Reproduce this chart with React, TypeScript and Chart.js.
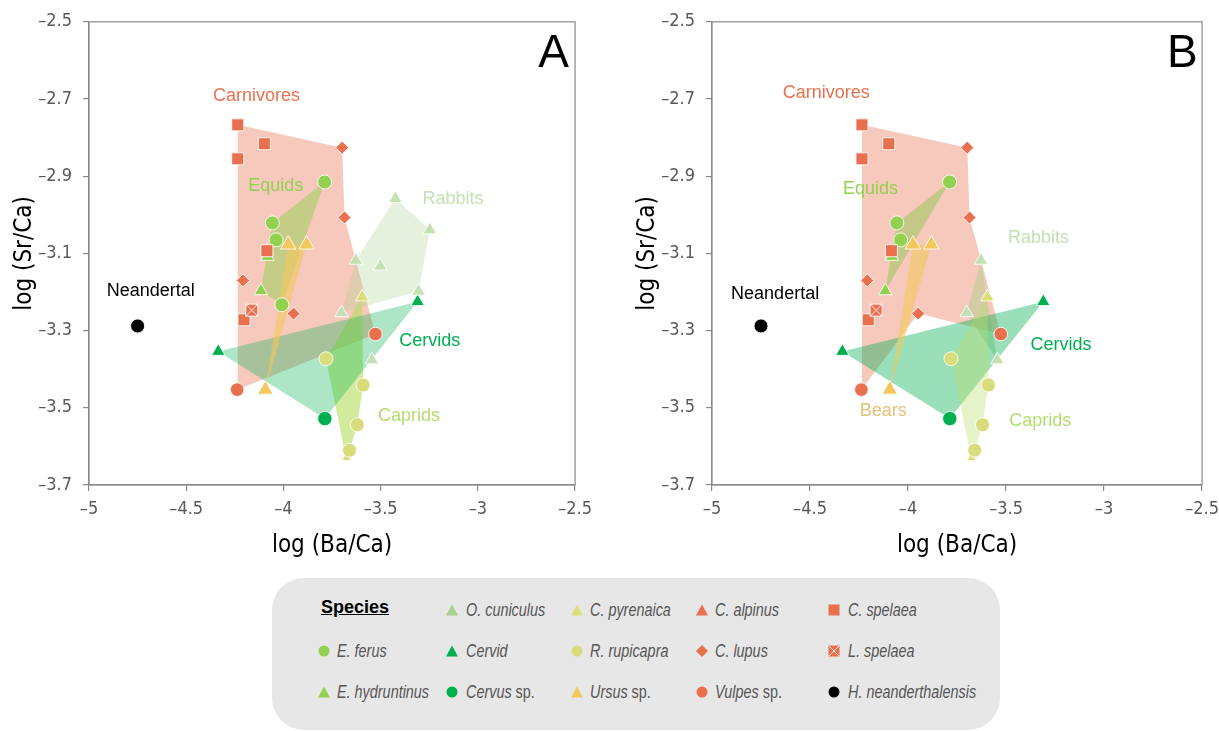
import React, { useEffect, useRef } from 'react';
import { Chart, registerables } from 'chart.js';

Chart.register(...registerables);

type Pt = [number, number];

// ---------- axis ticks ----------
const X_TICKS = [-5, -4.5, -4, -3.5, -3, -2.5];
const Y_TICKS = [-3.7, -3.5, -3.3, -3.1, -2.9, -2.7, -2.5];

// ---------- species values [log(Ba/Ca), log(Sr/Ca)] ----------
const cSpelaea: Pt[] = [[-4.235, -2.767], [-4.235, -2.855], [-4.098, -2.816], [-4.085, -3.093], [-4.203, -3.272]];
const lSpelaea: Pt[] = [[-4.163, -3.247]];
const cLupus: Pt[] = [[-3.698, -2.826], [-3.686, -3.007], [-4.208, -3.170], [-3.948, -3.256]];
const vulpes: Pt[] = [[-3.527, -3.309], [-4.238, -3.453]];
const cAlpinus: Pt[] = [[-4.085, -3.093]];
const eFerusShared: Pt[] = [[-3.788, -2.915], [-4.057, -3.021], [-4.038, -3.065]];
const eFerusAOnly: Pt[] = [[-4.008, -3.233]];
const eHydruntinus: Pt[] = [[-4.116, -3.197], [-4.082, -3.108]];
const ursus: Pt[] = [[-3.975, -3.077], [-3.881, -3.077], [-4.093, -3.453]];
const oCuniculusShared: Pt[] = [[-3.628, -3.118], [-3.701, -3.254], [-3.545, -3.376]];
const oCuniculusAOnly: Pt[] = [[-3.424, -2.958], [-3.247, -3.039], [-3.502, -3.133], [-3.305, -3.198]];
const cervid: Pt[] = [[-4.335, -3.354], [-3.310, -3.225]];
const cervus: Pt[] = [[-3.787, -3.528]];
const cPyrenaica: Pt[] = [[-3.595, -3.213], [-3.676, -3.636]];
const rRupicapra: Pt[] = [[-3.781, -3.373], [-3.590, -3.441], [-3.620, -3.544], [-3.660, -3.610]];
const neandertal: Pt[] = [[-4.750, -3.288]];

// ---------- group outlines (vertices are data points) ----------
const carnivoreHullA: Pt[] = [cSpelaea[0], cLupus[0], cLupus[1], vulpes[0], vulpes[1]];
const carnivoreHullB: Pt[] = [cSpelaea[0], cLupus[0], cLupus[1], vulpes[0], cLupus[3], vulpes[1]];
const equidHullA: Pt[] = [eFerusShared[0], eFerusShared[1], eHydruntinus[0], eFerusAOnly[0]];
const equidHullB: Pt[] = [eFerusShared[0], eFerusShared[1], eHydruntinus[0]];
const bearHull: Pt[] = [ursus[0], ursus[1], ursus[2]];
const rabbitHullA: Pt[] = [oCuniculusAOnly[0], oCuniculusAOnly[1], oCuniculusAOnly[3], oCuniculusShared[1], oCuniculusShared[0]];
const rabbitHullB: Pt[] = [oCuniculusShared[0], oCuniculusShared[2], oCuniculusShared[1]];
const cervidHull: Pt[] = [cervid[0], cervid[1], cervus[0]];
const capridHull: Pt[] = [cPyrenaica[0], rRupicapra[1], rRupicapra[2], cPyrenaica[1], rRupicapra[0]];

// ---------- group label annotations ----------
type Lab = { text: string; x: number; y: number; group: string };
const labelsA: Lab[] = [
  { text: 'Carnivores', x: -4.139, y: -2.692, group: 'carn' },
  { text: 'Equids', x: -4.039, y: -2.925, group: 'equid' },
  { text: 'Rabbits', x: -3.128, y: -2.958, group: 'rabbit' },
  { text: 'Neandertal', x: -4.682, y: -3.198, group: 'nean' },
  { text: 'Cervids', x: -3.247, y: -3.327, group: 'cervid' },
  { text: 'Caprids', x: -3.354, y: -3.522, group: 'caprid' },
  { text: 'A', x: -2.61, y: -2.583, group: 'panel' },
];
const labelsB: Lab[] = [
  { text: 'Carnivores', x: -4.417, y: -2.685, group: 'carn' },
  { text: 'Equids', x: -4.191, y: -2.932, group: 'equid' },
  { text: 'Rabbits', x: -3.334, y: -3.060, group: 'rabbit' },
  { text: 'Neandertal', x: -4.678, y: -3.206, group: 'nean' },
  { text: 'Cervids', x: -3.220, y: -3.338, group: 'cervid' },
  { text: 'Caprids', x: -3.326, y: -3.534, group: 'caprid' },
  { text: 'Bears', x: -4.127, y: -3.508, group: 'bear' },
  { text: 'B', x: -2.601, y: -2.583, group: 'panel' },
];

// ---------- styles ----------
const SANS = "'Liberation Sans', Arial, Helvetica, sans-serif";
const NARROW = "'Liberation Sans Narrow', 'Arial Narrow', 'DejaVu Sans Condensed', sans-serif";
const RED = '#E8704F';
const C_EQUID = '#92D050';
const C_URSUS = '#F2C85C';
const C_RABBIT = '#C5E0B4';
const C_RABBIT_LEG = '#A9D18E';
const C_CERVID = '#00B050';
const C_PYR = '#DBDF7B';
const C_RUP = '#D9DC7A';
const LABEL_COLORS: Record<string, string> = {
  carn: '#E8704F', equid: '#92D050', rabbit: '#C5E0B4', cervid: '#00B050',
  caprid: '#B4DC6E', bear: '#E3C27A', nean: '#000000', panel: '#000000',
};
const FILLS_A = {
  carn: 'rgba(232,112,79,0.38)', rabbit: 'rgba(169,209,142,0.30)', caprid: 'rgba(180,220,90,0.6)',
  cervid: 'rgba(0,176,80,0.32)', equid: 'rgba(146,208,80,0.5)', bear: 'rgba(242,200,92,0.6)',
};
const FILLS_B = {
  carn: 'rgba(232,112,79,0.38)', rabbit: 'rgba(169,209,142,0.45)', caprid: 'rgba(190,222,110,0.38)',
  cervid: 'rgba(0,176,80,0.4)', equid: 'rgba(146,200,80,0.5)', bear: 'rgba(242,200,92,0.6)',
};

const fmtTick = (v: any) => {
  const n = Number(v);
  return (n < 0 ? '\u2013' : '') + String(Math.abs(n));
};

function pts(arr: Pt[]) {
  return arr.map(([x, y]) => ({ x, y }));
}

function makeCrossSquare(color: string) {
  const c = document.createElement('canvas');
  c.width = 15;
  c.height = 15;
  const g = c.getContext('2d')!;
  g.fillStyle = color;
  g.fillRect(1, 1, 13, 13);
  g.strokeStyle = 'rgba(255,255,255,0.9)';
  g.lineWidth = 1;
  g.strokeRect(1.5, 1.5, 12, 12);
  g.beginPath();
  g.moveTo(2, 2);
  g.lineTo(13, 13);
  g.moveTo(13, 2);
  g.lineTo(2, 13);
  g.stroke();
  return c;
}

function marker(label: string, data: Pt[], style: any, color: string, radius: number, order: number, extra: any = {}) {
  return {
    type: 'scatter',
    label,
    data: pts(data),
    pointStyle: style,
    pointRadius: radius,
    pointBackgroundColor: color,
    pointBorderColor: 'rgba(255,255,255,0.85)',
    pointBorderWidth: 1,
    showLine: false,
    order,
    ...extra,
  };
}

function poly(label: string, hull: Pt[], fill: string, order: number) {
  return {
    type: 'line',
    label,
    data: pts([...hull, hull[0]]),
    fill: 'shape',
    backgroundColor: fill,
    borderColor: 'rgba(0,0,0,0)',
    borderWidth: 0,
    pointRadius: 0,
    tension: 0,
    order,
  };
}

function buildConfig(panel: 'A' | 'B', rightPad: number): any {
  const isA = panel === 'A';
  const eFerus = isA ? [...eFerusShared, ...eFerusAOnly] : eFerusShared;
  const oCun = isA ? [...oCuniculusShared, ...oCuniculusAOnly] : oCuniculusShared;
  const F = isA ? FILLS_A : FILLS_B;
  const labels = isA ? labelsA : labelsB;
  const cross = makeCrossSquare(RED);

  const datasets: any[] = [
    marker('L. spelaea', lSpelaea, cross, RED, 8, 0),
    marker('C. spelaea', cSpelaea, 'rect', RED, 8.5, 1),
    marker('C. lupus', cLupus, 'rectRot', RED, 6.5, 1),
    marker('Vulpes sp.', vulpes, 'circle', RED, 6.8, 1),
    marker('H. neanderthalensis', neandertal, 'circle', '#000000', 7, 1),
    marker('Ursus sp.', ursus, 'triangle', C_URSUS, 9, 2),
    marker('E. ferus', eFerus, 'circle', C_EQUID, 7, 2),
    marker('R. rupicapra', rRupicapra, 'circle', C_RUP, 7, 2),
    marker('Cervus sp.', cervus, 'circle', C_CERVID, 7.2, 2),
    marker('O. cuniculus', oCun, 'triangle', C_RABBIT, 7.8, 2),
    marker('Cervid', cervid, 'triangle', C_CERVID, 7.8, 2),
    marker('E. hydruntinus', eHydruntinus, 'triangle', C_EQUID, 7.8, 3),
    marker('C. pyrenaica', cPyrenaica, 'triangle', C_PYR, 7.8, 3, {
      clip: { left: 20, top: 20, right: 20, bottom: -25 },
    }),
    marker('C. alpinus', cAlpinus, 'triangle', RED, 7.5, 4),
    poly('Carnivores', isA ? carnivoreHullA : carnivoreHullB, F.carn, 20),
    poly('Rabbits', isA ? rabbitHullA : rabbitHullB, F.rabbit, 19),
    poly('Caprids', capridHull, F.caprid, isA ? 18 : 17),
    poly('Cervids', cervidHull, F.cervid, isA ? 17 : 18),
    poly('Equids', isA ? equidHullA : equidHullB, F.equid, 16),
    poly('Bears', bearHull, F.bear, 15),
  ];

  const framePlugin = {
    id: 'frame' + panel,
    beforeDatasetsDraw(chart: any) {
      const { ctx, chartArea: a } = chart;
      ctx.save();
      ctx.strokeStyle = '#8a8a8a';
      ctx.lineWidth = 1.2;
      ctx.strokeRect(a.left, a.top, a.right - a.left, a.bottom - a.top);
      ctx.restore();
    },
  };

  const labelPlugin = {
    id: 'labels' + panel,
    afterDatasetsDraw(chart: any) {
      const { ctx } = chart;
      const xs = chart.scales.x;
      const ys = chart.scales.y;
      ctx.save();
      ctx.textAlign = 'center';
      ctx.textBaseline = 'middle';
      for (const l of labels) {
        ctx.font = l.group === 'panel' ? `46px ${SANS}` : `18px ${SANS}`;
        ctx.fillStyle = LABEL_COLORS[l.group];
        ctx.fillText(l.text, xs.getPixelForValue(l.x), ys.getPixelForValue(l.y));
      }
      ctx.restore();
    },
  };

  const axisCommon = {
    type: 'linear',
    grid: { display: true, drawOnChartArea: false, drawTicks: true, tickLength: 6, color: '#8a8a8a', lineWidth: 1.2 },
    border: { display: true, color: '#8a8a8a', width: 1.2 },
  };

  return {
    type: 'scatter',
    data: { datasets },
    plugins: [framePlugin, labelPlugin],
    options: {
      responsive: false,
      animation: false,
      events: [],
      devicePixelRatio: 1,
      layout: { padding: { left: 0, top: 20, right: rightPad, bottom: 0 } },
      plugins: { legend: { display: false }, tooltip: { enabled: false } },
      scales: {
        x: {
          ...axisCommon,
          min: -5,
          max: -2.5,
          afterBuildTicks: (s: any) => {
            s.ticks = X_TICKS.map((v) => ({ value: v }));
          },
          afterFit: (s: any) => {
            s.height = 85;
          },
          ticks: { color: '#595959', font: { family: NARROW, size: 18 }, padding: 8, callback: fmtTick, autoSkip: false, maxRotation: 0 },
          title: { display: true, text: 'log (Ba/Ca)', color: '#000000', font: { family: NARROW, size: 24 }, padding: { top: 0, bottom: 10 } },
        },
        y: {
          ...axisCommon,
          min: -3.7,
          max: -2.5,
          afterBuildTicks: (s: any) => {
            s.ticks = Y_TICKS.map((v) => ({ value: v }));
          },
          afterFit: (s: any) => {
            s.width = 89;
          },
          ticks: { color: '#595959', font: { family: NARROW, size: 18 }, padding: 11, callback: fmtTick, autoSkip: false },
          title: { display: true, text: 'log (Sr/Ca)', color: '#000000', font: { family: NARROW, size: 24 }, padding: { top: 10, bottom: 0 } },
        },
      },
    },
  };
}

function Panel({ panel, left, width, rightPad }: { panel: 'A' | 'B'; left: number; width: number; rightPad: number }) {
  const ref = useRef<HTMLCanvasElement>(null);
  useEffect(() => {
    const chart = new Chart(ref.current!, buildConfig(panel, rightPad));
    return () => chart.destroy();
  }, [panel, rightPad]);
  return (
    <canvas
      ref={ref}
      width={width}
      height={570}
      style={{ position: 'absolute', left, top: 0, width, height: 570 }}
    />
  );
}

// ---------- legend ----------
type Shape = 'triangle' | 'circle' | 'square' | 'diamond' | 'cross';
type LegendEntry = { name: string; plain: string; shape: Shape; color: string; col: number; row: number };
const legendEntries: LegendEntry[] = [
  { name: 'O. cuniculus', plain: '', shape: 'triangle', color: C_RABBIT_LEG, col: 1, row: 0 },
  { name: 'C. pyrenaica', plain: '', shape: 'triangle', color: C_PYR, col: 2, row: 0 },
  { name: 'C. alpinus', plain: '', shape: 'triangle', color: RED, col: 3, row: 0 },
  { name: 'C. spelaea', plain: '', shape: 'square', color: RED, col: 4, row: 0 },
  { name: 'E. ferus', plain: '', shape: 'circle', color: C_EQUID, col: 0, row: 1 },
  { name: 'Cervid', plain: '', shape: 'triangle', color: C_CERVID, col: 1, row: 1 },
  { name: 'R. rupicapra', plain: '', shape: 'circle', color: C_RUP, col: 2, row: 1 },
  { name: 'C. lupus', plain: '', shape: 'diamond', color: RED, col: 3, row: 1 },
  { name: 'L. spelaea', plain: '', shape: 'cross', color: RED, col: 4, row: 1 },
  { name: 'E. hydruntinus', plain: '', shape: 'triangle', color: C_EQUID, col: 0, row: 2 },
  { name: 'Cervus', plain: ' sp.', shape: 'circle', color: C_CERVID, col: 1, row: 2 },
  { name: 'Ursus', plain: ' sp.', shape: 'triangle', color: C_URSUS, col: 2, row: 2 },
  { name: 'Vulpes', plain: ' sp.', shape: 'circle', color: RED, col: 3, row: 2 },
  { name: 'H. neanderthalensis', plain: '', shape: 'circle', color: '#000000', col: 4, row: 2 },
];
const COL_MARK_X = [324, 452, 577, 702, 834];
const COL_TEXT_X = [337, 466, 590, 715, 848];
const ROW_Y = [610, 651, 692];

function LegendMark({ shape, color }: { shape: Shape; color: string }) {
  let el: any;
  if (shape === 'triangle') el = <polygon points="7,1.5 13,12.5 1,12.5" fill={color} />;
  else if (shape === 'circle') el = <circle cx="7" cy="7" r="5.5" fill={color} />;
  else if (shape === 'square') el = <rect x="1.5" y="1.5" width="11" height="11" fill={color} />;
  else if (shape === 'diamond') el = <polygon points="7,1 13,7 7,13 1,7" fill={color} />;
  else
    el = (
      <g>
        <rect x="1.5" y="1.5" width="11" height="11" fill={color} />
        <path d="M2,2 L12,12 M12,2 L2,12" stroke="#ffffff" strokeWidth="0.8" />
      </g>
    );
  return (
    <svg width="14" height="14" viewBox="0 0 14 14" style={{ display: 'block' }}>
      {el}
    </svg>
  );
}

function Legend() {
  return (
    <>
      <div
        style={{
          position: 'absolute', left: 272, top: 578, width: 728, height: 152,
          background: '#E7E7E7', borderRadius: 32,
        }}
      />
      <div
        style={{
          position: 'absolute', left: 321, top: 595, height: 24, lineHeight: '24px',
          fontFamily: SANS, fontWeight: 'bold', fontSize: 18, textDecoration: 'underline', color: '#000',
        }}
      >
        Species
      </div>
      {legendEntries.map((e) => (
        <React.Fragment key={e.name}>
          <div style={{ position: 'absolute', left: COL_MARK_X[e.col] - 7, top: ROW_Y[e.row] - 7 }}>
            <LegendMark shape={e.shape} color={e.color} />
          </div>
          <div
            style={{
              position: 'absolute', left: COL_TEXT_X[e.col], top: ROW_Y[e.row] - 12, height: 24,
              lineHeight: '24px', whiteSpace: 'nowrap', fontFamily: SANS, fontSize: 18,
              color: '#555555', transform: 'scaleX(0.8)', transformOrigin: '0 50%',
            }}
          >
            <span style={{ fontStyle: 'italic' }}>{e.name}</span>
            {e.plain}
          </div>
        </React.Fragment>
      ))}
    </>
  );
}

export default function App() {
  return (
    <div
      style={{
        position: 'fixed', left: 0, top: 0, width: 1219, height: 731,
        overflow: 'hidden', background: '#ffffff',
      }}
    >
      <Panel panel="A" left={0} width={600} rightPad={20} />
      <Panel panel="B" left={623} width={604} rightPad={20} />
      <Legend />
    </div>
  );
}
